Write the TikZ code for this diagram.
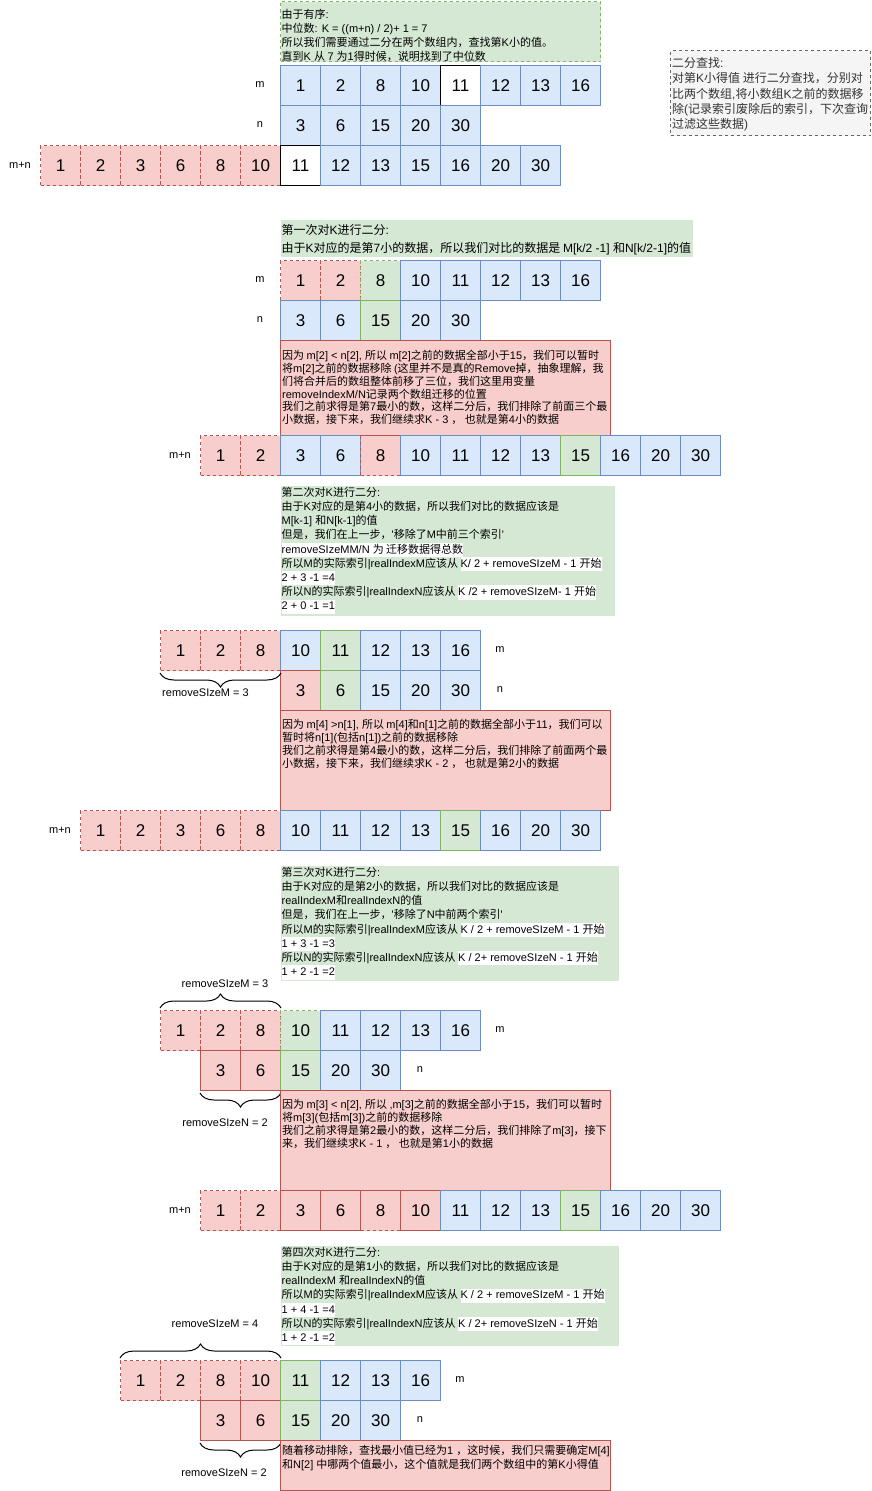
\documentclass[tikz,border=0pt]{standalone}
\usepackage{fontspec}
\setmainfont{Liberation Sans}
\newfontfamily\lafont{Liberation Sans}
\newfontfamily\hzfont{Noto Sans CJK SC}
\usetikzlibrary{decorations.pathreplacing}

% han characters go to the CJK face, the rest stays Latin
\newXeTeXintercharclass\hanzicls
\newcount\hzn
\hzn="21 \loop\XeTeXcharclass\hzn=0 \ifnum\hzn<"7E \advance\hzn by 1 \repeat
\hzn="3000 \loop\XeTeXcharclass\hzn=\hanzicls\ifnum\hzn<"303F \advance\hzn by 1 \repeat
\hzn="4E00 \loop\XeTeXcharclass\hzn=\hanzicls\ifnum\hzn<"9FFF \advance\hzn by 1 \repeat
\hzn="FF00 \loop\XeTeXcharclass\hzn=\hanzicls\ifnum\hzn<"FFEF \advance\hzn by 1 \repeat
\XeTeXinterchartoks 0 \hanzicls = {\hzfont}
\XeTeXinterchartoks 4095 \hanzicls = {\hzfont}
\XeTeXinterchartoks \hanzicls 0 = {\lafont}
\XeTeXinterchartoks 4095 0 = {\lafont}
\newcommand{\hzon}{\XeTeXinterchartokenstate 1\relax}

\definecolor{blfill}{HTML}{DAE8FC}
\definecolor{blline}{HTML}{6C8EBF}
\definecolor{rdfill}{HTML}{F8CECC}
\definecolor{rdline}{HTML}{B85450}
\definecolor{grfill}{HTML}{D5E8D4}
\definecolor{grline}{HTML}{82B366}
\definecolor{gyfill}{HTML}{F5F5F5}
\definecolor{gyline}{HTML}{666666}
\definecolor{gytext}{HTML}{333333}

\setlength{\fboxsep}{0pt}
\newcommand{\hlw}[1]{\colorbox{white}{\strut#1}}

\tikzset{
  cell/.style={draw, line width=1pt, minimum size=40pt, inner sep=0pt,
    anchor=north west, font=\fontsize{17}{17}\selectfont},
  bl/.style={fill=blfill, draw=blline},
  rd/.style={fill=rdfill, draw=rdline},
  rdd/.style={rd, dash pattern=on 3pt off 3pt},
  gr/.style={fill=grfill, draw=grline},
  grd/.style={gr, dash pattern=on 3pt off 3pt},
  wt/.style={fill=white, draw=black},
  lbl/.style={font=\fontsize{11}{13}\selectfont, inner sep=0pt},
  box/.style={anchor=north west, inner sep=0pt, line width=1pt},
  gtxt/.style={anchor=north west, inner sep=0pt, align=left,
    font={\fontsize{11}{14.1}\selectfont\hzon}},
  rtxt/.style={gtxt, font={\fontsize{11}{12.9}\selectfont\hzon}},
  brc/.style={decorate, decoration={brace, amplitude=14pt, raise=1pt}, line width=1pt},
}

\begin{document}
\begin{tikzpicture}[x=1pt,y=-1pt]
  \useasboundingbox[fill=white] (0,0) rectangle (871,1491);

  % ---- the two sorted arrays ----
  \node[box, fill=grfill, draw=grline, dash pattern=on 3pt off 3pt,
    minimum width=320pt, minimum height=60pt] (introbox) at (280,1) {};
  \node[gtxt] (intro) at (281.5,8.8) {由于有序:\\
中位数: K =  ((m+n) / 2)+ 1  = 7\\
所以我们需要通过二分在两个数组内，查找第K小的值。\\
直到K 从 7 为1得时候，说明找到了中位数};
  \node[box, fill=gyfill, draw=gyline, dash pattern=on 3pt off 3pt,
    minimum width=200pt, minimum height=85pt] (hintbox) at (670,50) {};
  \node[gtxt, text=gytext, font={\fontsize{12}{15.3}\selectfont\hzon}]
    (hint) at (672,57.2) {二分查找:\\
对第K小得值 进行二分查找，分别对\\
比两个数组,将小数组K之前的数据移\\
除(记录索引废除后的索引，下次查询\\
过滤这些数据)};

  \node[lbl] (m0lab) at (260,85) {m};
  \node[lbl] (n0lab) at (260,125) {n};
  \node[lbl] (s0lab) at (20,165) {m+n};
  \foreach \v/\s [count=\i from 0] in {1/bl,2/bl,8/bl,10/bl,11/wt,12/bl,13/bl,16/bl}
    \node[cell,\s] (m0c\i) at (280+40*\i,65) {\v};
  \foreach \v/\s [count=\i from 0] in {3/bl,6/bl,15/bl,20/bl,30/bl}
    \node[cell,\s] (n0c\i) at (280+40*\i,105) {\v};
  \foreach \v/\s [count=\i from 0] in {1/rdd,2/rdd,3/rdd,6/rdd,8/rdd,10/rdd,11/wt,12/bl,13/bl,15/bl,16/bl,20/bl,30/bl}
    \node[cell,\s] (s0c\i) at (40+40*\i,145) {\v};

  % ---- first split, K = 7 ----
  \node[box, fill=grfill, minimum width=412pt, minimum height=37pt] (step1box) at (280,219) {};
  \node[gtxt, font={\fontsize{12}{18}\selectfont\hzon}]
    (step1) at (281.5,224.5) {第一次对K进行二分:\\
由于K对应的是第7小的数据，所以我们对比的数据是 M[k/2 -1] 和N[k/2-1]的值};

  \node[lbl] (m1lab) at (260,280) {m};
  \node[lbl] (n1lab) at (260,320) {n};
  \node[lbl] (s1lab) at (180,455) {m+n};
  \foreach \v/\s [count=\i from 0] in {1/rdd,2/rdd,8/grd,10/bl,11/bl,12/bl,13/bl,16/bl}
    \node[cell,\s] (m1c\i) at (280+40*\i,260) {\v};
  \foreach \v/\s [count=\i from 0] in {3/bl,6/bl,15/gr,20/bl,30/bl}
    \node[cell,\s] (n1c\i) at (280+40*\i,300) {\v};

  \node[box, fill=rdfill, draw=rdline, minimum width=330pt, minimum height=95pt] (why1box) at (280,340) {};
  \node[rtxt] (why1) at (282,349.8) {因为 m[2] < n[2], 所以 m[2]之前的数据全部小于15，我们可以暂时\\
将m[2]之前的数据移除 (这里并不是真的Remove掉，抽象理解，我\\
们将合并后的数组整体前移了三位，我们这里用变量\\
removeIndexM/N记录两个数组迁移的位置\\
我们之前求得是第7最小的数，这样二分后，我们排除了前面三个最\\
小数据，接下来，我们继续求K - 3 ， 也就是第4小的数据};

  \foreach \v/\s [count=\i from 0] in {1/rdd,2/rdd,3/bl,6/bl,8/rdd,10/bl,11/bl,12/bl,13/bl,15/gr,16/bl,20/bl,30/bl}
    \node[cell,\s] (s1c\i) at (200+40*\i,435) {\v};

  % ---- second split, K = 4 ----
  \node[box, fill=grfill, minimum width=334pt, minimum height=130pt] (step2box) at (280,485) {};
  \node[gtxt] (step2) at (281.5,487.1) {第二次对K进行二分:\\
由于K对应的是第4小的数据，所以我们对比的数据应该是\\
M[k-1] 和N[k-1]的值\\
但是，我们在上一步，'移除了M中前三个索引'\\
\hlw{removeSIzeMM/N 为 迁移数据得总数}\\
所以M的实际索引|realIndexM应该从 \hlw{K/ 2 + removeSIzeM - 1  开始}\\
\hlw{2 + 3  -1 =4}\\
所以N的实际索引|realIndexN应该从 \hlw{K /2 + removeSIzeM- 1  开始}\\
\hlw{2 + 0 -1 =1}};

  \node[lbl] (m2lab) at (500,650) {m};
  \node[lbl] (n2lab) at (500,690) {n};
  \node[lbl] (s2lab) at (60,830) {m+n};
  \foreach \v/\s [count=\i from 0] in {1/rdd,2/rdd,8/rdd,10/bl,11/gr,12/bl,13/bl,16/bl}
    \node[cell,\s] (m2c\i) at (160+40*\i,630) {\v};
  \foreach \v/\s [count=\i from 0] in {3/rd,6/gr,15/bl,20/bl,30/bl}
    \node[cell,\s] (n2c\i) at (280+40*\i,670) {\v};
  \draw[brc] ([yshift=-1pt]m2c2.south east) -- ([yshift=-1pt]m2c0.south west);
  \node[lbl] (rm2) at (205.5,693) {removeSIzeM = 3};

  \node[box, fill=rdfill, draw=rdline, minimum width=330pt, minimum height=100pt] (why2box) at (280,710) {};
  \node[rtxt] (why2) at (282,718.8) {因为 m[4] >n[1], 所以 m[4]和n[1]之前的数据全部小于11，我们可以\\
暂时将n[1](包括n[1])之前的数据移除\\
我们之前求得是第4最小的数，这样二分后，我们排除了前面两个最\\
小数据，接下来，我们继续求K - 2 ， 也就是第2小的数据};

  \foreach \v/\s [count=\i from 0] in {1/rdd,2/rdd,3/rdd,6/rdd,8/rdd,10/bl,11/bl,12/bl,13/bl,15/gr,16/bl,20/bl,30/bl}
    \node[cell,\s] (s2c\i) at (80+40*\i,810) {\v};

  % ---- third split, K = 2 ----
  \node[box, fill=grfill, minimum width=338pt, minimum height=115pt] (step3box) at (280,865) {};
  \node[gtxt] (step3) at (281.5,867.1) {第三次对K进行二分:\\
由于K对应的是第2小的数据，所以我们对比的数据应该是\\
realIndexM和realIndexN的值\\
但是，我们在上一步，'移除了N中前两个索引'\\
所以M的实际索引|realIndexM应该从 \hlw{K / 2 + removeSIzeM - 1  开始}\\
\hlw{1 + 3 -1 =3}\\
所以N的实际索引|realIndexN应该从 \hlw{K / 2+ removeSIzeN - 1  开始}\\
\hlw{1 + 2 -1 =2}};

  \node[lbl] (rm3) at (225,984) {removeSIzeM = 3};
  \node[lbl] (m3lab) at (500,1030) {m};
  \node[lbl] (n3lab) at (420,1070) {n};
  \node[lbl] (s3lab) at (180,1210) {m+n};
  \foreach \v/\s [count=\i from 0] in {1/rdd,2/rdd,8/rdd,10/grd,11/bl,12/bl,13/bl,16/bl}
    \node[cell,\s] (m3c\i) at (160+40*\i,1010) {\v};
  \foreach \v/\s [count=\i from 0] in {3/rd,6/rd,15/gr,20/bl,30/bl}
    \node[cell,\s] (n3c\i) at (200+40*\i,1050) {\v};
  \draw[brc] ([yshift=1pt]m3c0.north west) -- ([yshift=1pt]m3c2.north east);
  \draw[brc] ([yshift=-1pt]n3c1.south east) -- ([yshift=-1pt]n3c0.south west);
  \node[lbl] (rn3) at (225,1123) {removeSIzeN = 2};

  \node[box, fill=rdfill, draw=rdline, minimum width=330pt, minimum height=100pt] (why3box) at (280,1090) {};
  \node[rtxt] (why3) at (282,1098.8) {因为 m[3] < n[2], 所以 ,m[3]之前的数据全部小于15，我们可以暂时\\
将m[3](包括m[3])之前的数据移除\\
我们之前求得是第2最小的数，这样二分后，我们排除了m[3]，接下\\
来，我们继续求K - 1 ， 也就是第1小的数据};

  \foreach \v/\s [count=\i from 0] in {1/rdd,2/rdd,3/rd,6/rd,8/rdd,10/rd,11/bl,12/bl,13/bl,15/gr,16/bl,20/bl,30/bl}
    \node[cell,\s] (s3c\i) at (200+40*\i,1190) {\v};

  % ---- fourth split, K = 1 ----
  \node[box, fill=grfill, minimum width=338pt, minimum height=100pt] (step4box) at (280,1245) {};
  \node[gtxt] (step4) at (281.5,1247.1) {第四次对K进行二分:\\
由于K对应的是第1小的数据，所以我们对比的数据应该是\\
realIndexM 和realIndexN的值\\
所以M的实际索引|realIndexM应该从 \hlw{K / 2 + removeSIzeM - 1  开始}\\
\hlw{1 + 4 -1 =4}\\
所以N的实际索引|realIndexN应该从 \hlw{K / 2+ removeSIzeN - 1  开始}\\
\hlw{1 + 2 -1 =2}};

  \node[lbl] (rm4) at (215,1324) {removeSIzeM = 4};
  \node[lbl] (m4lab) at (460,1380) {m};
  \node[lbl] (n4lab) at (420,1420) {n};
  \foreach \v/\s [count=\i from 0] in {1/rdd,2/rdd,8/rdd,10/rdd,11/gr,12/bl,13/bl,16/bl}
    \node[cell,\s] (m4c\i) at (120+40*\i,1360) {\v};
  \foreach \v/\s [count=\i from 0] in {3/rd,6/rd,15/gr,20/bl,30/bl}
    \node[cell,\s] (n4c\i) at (200+40*\i,1400) {\v};
  \draw[brc] ([yshift=1pt]m4c0.north west) -- ([yshift=1pt]m4c3.north east);
  \draw[brc] ([yshift=-1pt]n4c1.south east) -- ([yshift=-1pt]n4c0.south west);
  \node[lbl] (rn4) at (224,1473) {removeSIzeN = 2};

  \node[box, fill=rdfill, draw=rdline, minimum width=330pt, minimum height=50pt] (why4box) at (280,1440) {};
  \node[gtxt, font={\fontsize{11}{14}\selectfont\hzon}]
    (why4) at (282,1444.8) {随着移动排除，查找最小值已经为1 ，这时候，我们只需要确定M[4]\\
和N[2] 中哪两个值最小，这个值就是我们两个数组中的第K小得值};
\end{tikzpicture}
\end{document}
